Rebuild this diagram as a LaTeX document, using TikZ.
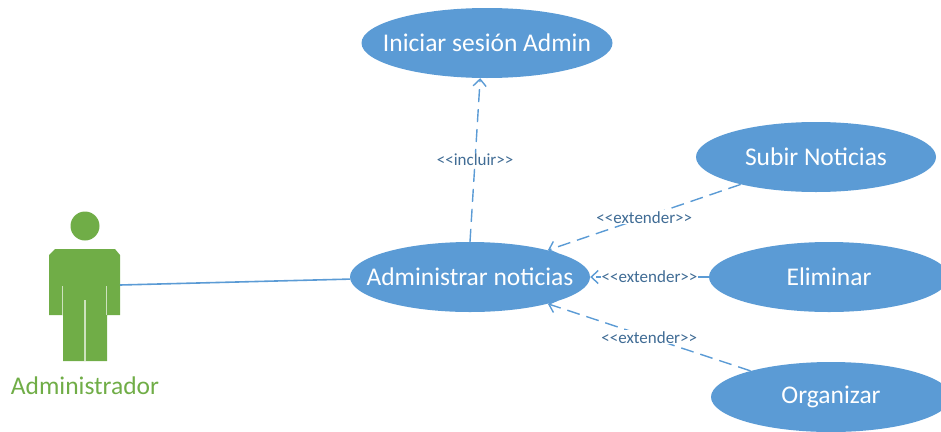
\documentclass[tikz,border=0pt]{standalone}
\usepackage{fontspec}
\setmainfont{Carlito}
\usetikzlibrary{arrows.meta,shapes.geometric}
\definecolor{caseblue}{HTML}{5B9BD5}
\definecolor{actorgreen}{HTML}{70AD47}
\tikzset{
  usecase/.style={ellipse,fill=caseblue,text=white,minimum width=240pt,minimum height=70pt,inner ysep=0pt,inner xsep=-30pt,font=\fontsize{25.5}{28}\selectfont},
  rel/.style={draw=caseblue,line width=1.4pt,dash pattern=on 13pt off 7pt,-{Straight Barb[length=7pt,width=13pt]}},
  stereo/.style={fill=white,text=caseblue!70!black,inner sep=1pt,font=\fontsize{17}{19}\selectfont},
  slit/.style={actorgreen!35!white,line width=1.2pt}
}
\begin{document}
\begin{tikzpicture}[x=1pt,y=-1pt]
\useasboundingbox (0,0) rectangle (941,431);
% casos de uso
\node[usecase,minimum width=251pt] (inicio) at (487,43) {Iniciar sesión Admin};
\node[usecase] (admin) at (470,277) {Administrar noticias};
\node[usecase] (subir) at (816,157) {Subir Noticias};
\node[usecase] (eliminar) at (829,277) {Eliminar};
\node[usecase] (organizar) at (831,397) {Organizar};
% actor
\fill[actorgreen] (85,226) circle[radius=14.5pt];
\fill[actorgreen] (55,249) -- (115,249) -- (120,255) -- (120,315) -- (107,315) -- (107,361) -- (63,361) -- (63,315) -- (49,315) -- (49,255) -- cycle;
\draw[slit] (62.5,286) -- (62.5,315);
\draw[slit] (106.5,286) -- (106.5,315);
\draw[slit] (85,300) -- (85,361);
\coordinate (actor) at (120,285);
\node[text=actorgreen,font=\fontsize{25.5}{28}\selectfont] (adminlabel) at (85,386) {Administrador};
\draw[caseblue,line width=1.6pt] (actor) -- (admin.181);
% relaciones
\draw[rel] (admin.north) -- node[stereo] (incluir) {<{}<incluir>{}>} (inicio.259);
\foreach \from/\to/\name in {subir.200/admin.19/ext1,eliminar.west/admin.east/ext2,organizar.162/admin.341/ext3}
\draw[rel] (\from) -- node[stereo] (\name) {<{}<extender>{}>} (\to);
\end{tikzpicture}
\end{document}
